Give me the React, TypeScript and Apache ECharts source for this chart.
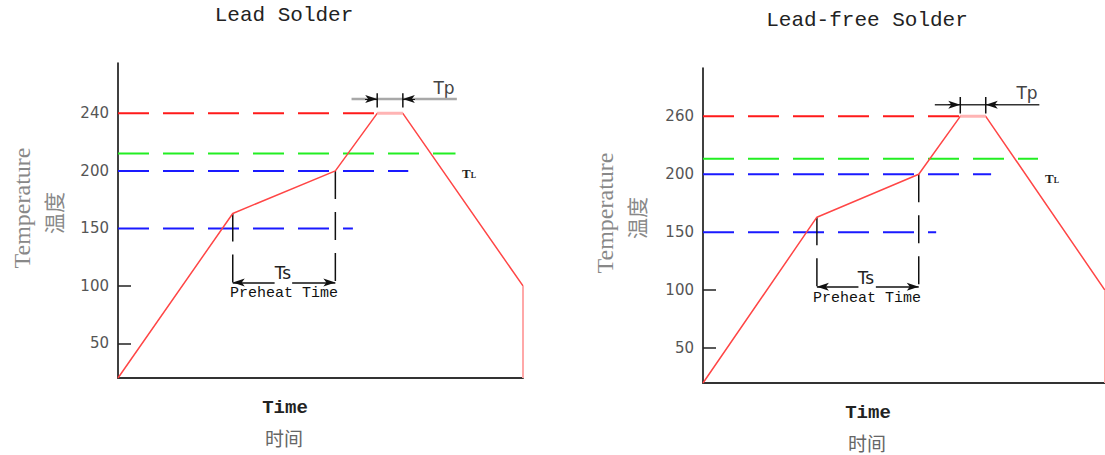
import React, { useEffect, useRef } from "react";
import * as echarts from "echarts";

// ---- data ----
const profileTime = [0, 85, 161, 192, 211, 300]; // schematic seconds
const leftTemps = [20, 163, 200, 240, 240, 100];
const rightTemps = [20, 163, 200, 260, 260, 100];
const leftTicks = [50, 100, 150, 200, 240];
const rightTicks = [50, 100, 150, 200, 260];
const ambient = 20;
const leftTop = 275;
const rightTop = 310;
const leftLiquidus = 212;
const rightLiquidus = 216;
// guide line ends (time) for: peak, liquidus, soak max (200), soak min (150)
const guideEnd = [192, 250, 215, 174];
const tpSpan = [173, 251];
const leftTpLevel = 250;
const rightTpLevel = 272;
const leftTpTick = [244, 254];
const rightTpTick = [263, 280];
const tsLevel = 103;
const tsLeftSeg = [85, 116];
const tsRightSeg = [129, 161];
const tpArrowLeft = [183, 192];
const tpArrowRight = [220, 211];

function toPos(t: number, ticks: number[]) {
  let i = 0;
  if (t >= ticks[ticks.length - 1]) i = ticks.length - 2;
  else {
    while (i < ticks.length - 2 && t > ticks[i + 1]) i++;
  }
  return i + (t - ticks[i]) / (ticks[i + 1] - ticks[i]);
}

function buildChart(
  gi: number,
  temps: number[],
  ticks: number[],
  liquidus: number,
  tpLevel: number,
  tpTick: number[],
  tpColor: string,
  tpWidth: number
) {
  const P = (t: number, v: number) => [t, toPos(v, ticks)];
  const base = {
    type: "line",
    xAxisIndex: gi,
    yAxisIndex: gi,
    symbol: "none",
    silent: true,
    animation: false,
  };
  const dash = [31, 14];
  const series: any[] = [];
  // guide lines
  series.push({ ...base, data: [P(0, ticks[4]), P(guideEnd[0], ticks[4])], lineStyle: { color: "#ff1a1a", width: 2, type: dash } });
  series.push({ ...base, data: [P(0, liquidus), P(guideEnd[1], liquidus)], lineStyle: { color: "#22ee22", width: 2, type: dash } });
  series.push({ ...base, data: [P(0, ticks[3]), P(guideEnd[2], ticks[3])], lineStyle: { color: "#1a1aff", width: 2, type: dash } });
  series.push({ ...base, data: [P(0, ticks[2]), P(guideEnd[3], ticks[2])], lineStyle: { color: "#1a1aff", width: 2, type: dash } });
  // Ts vertical dashed
  series.push({ ...base, data: [P(profileTime[1], temps[1]), P(profileTime[1], tsLevel)], lineStyle: { color: "#111", width: 1.5, type: [28, 13] } });
  series.push({
    ...base,
    data: [P(profileTime[2], temps[2]), P(profileTime[2], tsLevel)],
    lineStyle: { color: "#111", width: 1.5, type: [28, 13] },
    markLine: {
      silent: true,
      animation: false,
      label: { show: false },
      lineStyle: { color: "#111", width: 1.5, type: "solid" },
      symbolSize: [6, 12],
      data: [
        [{ coord: P(tsLeftSeg[0], tsLevel), symbol: "arrow" }, { coord: P(tsLeftSeg[1], tsLevel), symbol: "none" }],
        [{ coord: P(tsRightSeg[0], tsLevel), symbol: "none" }, { coord: P(tsRightSeg[1], tsLevel), symbol: "arrow" }],
      ],
    },
  });
  // Tp line
  series.push({
    ...base,
    data: [P(tpSpan[0], tpLevel), P(tpSpan[1], tpLevel)],
    lineStyle: { color: tpColor, width: tpWidth },
    markLine: {
      silent: true,
      animation: false,
      label: { show: false },
      lineStyle: { color: "#111", width: 1, type: "solid" },
      symbolSize: [6, 12],
      data: [
        [{ coord: P(tpArrowLeft[0], tpLevel), symbol: "none" }, { coord: P(tpArrowLeft[1], tpLevel), symbol: "arrow" }],
        [{ coord: P(tpArrowRight[0], tpLevel), symbol: "none" }, { coord: P(tpArrowRight[1], tpLevel), symbol: "arrow" }],
      ],
    },
  });
  series.push({ ...base, data: [P(profileTime[3], tpTick[0]), P(profileTime[3], tpTick[1])], lineStyle: { color: "#111", width: 1.5 } });
  series.push({ ...base, data: [P(profileTime[4], tpTick[0]), P(profileTime[4], tpTick[1])], lineStyle: { color: "#111", width: 1.5 } });
  // profile
  series.push({
    ...base,
    data: profileTime.map((t, i) => P(t, temps[i])),
    lineStyle: { color: "#ff4646", width: 1.5 },
  });
  series.push({
    ...base,
    data: [P(profileTime[3], temps[3]), P(profileTime[4], temps[4])],
    lineStyle: { color: "#ffb4b4", width: 3 },
  });
  series.push({
    ...base,
    data: [P(profileTime[5], temps[5]), P(profileTime[5], ambient)],
    lineStyle: { color: "#ffa8a8", width: 2 },
  });
  return series;
}

function yAxisFor(gi: number, ticks: number[], top: number) {
  return {
    type: "value",
    gridIndex: gi,
    min: toPos(ambient, ticks),
    max: toPos(top, ticks),
    splitLine: { show: false },
    axisLine: { show: true, onZero: false, lineStyle: { color: "#000", width: 1.5 } },
    axisTick: {
      show: true,
      inside: true,
      length: 13,
      customValues: [0, 1],
      lineStyle: { color: "#222", width: 1.5 },
    },
    axisLabel: {
      show: true,
      customValues: ticks.map((_, i) => i),
      formatter: (v: number) => String(ticks[Math.round(v)]),
      color: "#555",
      fontFamily: "DejaVu Sans",
      fontSize: 15,
      margin: 9,
    },
  };
}

function xAxisFor(gi: number) {
  return {
    type: "value",
    gridIndex: gi,
    min: 0,
    max: 300,
    splitLine: { show: false },
    axisLine: { show: true, onZero: false, lineStyle: { color: "#333", width: 2 } },
    axisTick: { show: false },
    axisLabel: { show: false },
  };
}

const mono = "Liberation Mono";

function txt(x: number, y: number, text: string, style: any, rotation = 0) {
  return {
    type: "text",
    x,
    y,
    rotation,
    silent: true,
    style: { text, align: "center", verticalAlign: "middle", ...style },
  };
}

function labels(dx: number, dy: number, title: string) {
  const tl = {
    type: "text",
    x: 0,
    y: 0,
    silent: true,
    style: {
      text: "{a|T}{b|L}",
      align: "left",
      verticalAlign: "middle",
      rich: {
        a: { fontFamily: "Liberation Serif", fontSize: 13, fontWeight: "bold", fill: "#222" },
        b: { fontFamily: "Liberation Serif", fontSize: 8, fontWeight: "bold", fill: "#222", verticalAlign: "bottom", padding: [4, 0, 0, 0] },
      },
    },
  };
  return [
    txt(284 + dx, 15 + dy, title, { font: `21px "${mono}"`, fill: "#222" }),
    txt(22 + dx, 208 + dy, "Temperature", { font: `24px "Liberation Serif"`, fill: "#888" }, Math.PI / 2),
    txt(53 + dx, 213 + dy, "温度", { font: `21px "Noto Sans CJK SC"`, fill: "#888" }, Math.PI / 2),
    txt(285 + dx, 408 + dy, "Time", { font: `bold 19px "${mono}"`, fill: "#222" }),
    txt(284 + dx, 437 + dy, "时间", { font: `19px "Noto Sans CJK SC"`, fill: "#666" }),
    txt(283 + dx, 273 + dy, "Ts", { font: `17px "DejaVu Sans"`, fill: "#222" }),
    txt(284 + dx, 293 + dy, "Preheat Time", { font: `15px "${mono}"`, fill: "#111" }),
    txt(444 + dx, 88 + dy, "Tp", { font: `17px "DejaVu Sans"`, fill: "#444" }),
    { ...tl, x: 462 + dx, y: 173 + dy },
  ];
}

export default function App() {
  const ref = useRef<HTMLDivElement>(null);
  useEffect(() => {
    if (!ref.current) return;
    const chart = echarts.init(ref.current, undefined, { renderer: "svg" });
    chart.setOption({
      animation: false,
      backgroundColor: "#fff",
      grid: [
        { left: 118, top: 63, width: 405, height: 315 },
        { left: 703, top: 68, width: 405, height: 315 },
      ],
      xAxis: [xAxisFor(0), xAxisFor(1)],
      yAxis: [yAxisFor(0, leftTicks, leftTop), yAxisFor(1, rightTicks, rightTop)],
      series: [
        ...buildChart(0, leftTemps, leftTicks, leftLiquidus, leftTpLevel, leftTpTick, "#a8a8a8", 2.5),
        ...buildChart(1, rightTemps, rightTicks, rightLiquidus, rightTpLevel, rightTpTick, "#333", 1.5),
      ],
      graphic: [...labels(0, 0, "Lead Solder"), ...labels(583, 5, "Lead-free Solder")],
    });
    return () => chart.dispose();
  }, []);
  return (
    <div
      ref={ref}
      style={{ position: "absolute", left: 0, top: 0, width: 1105, height: 455, overflow: "hidden" }}
    />
  );
}
